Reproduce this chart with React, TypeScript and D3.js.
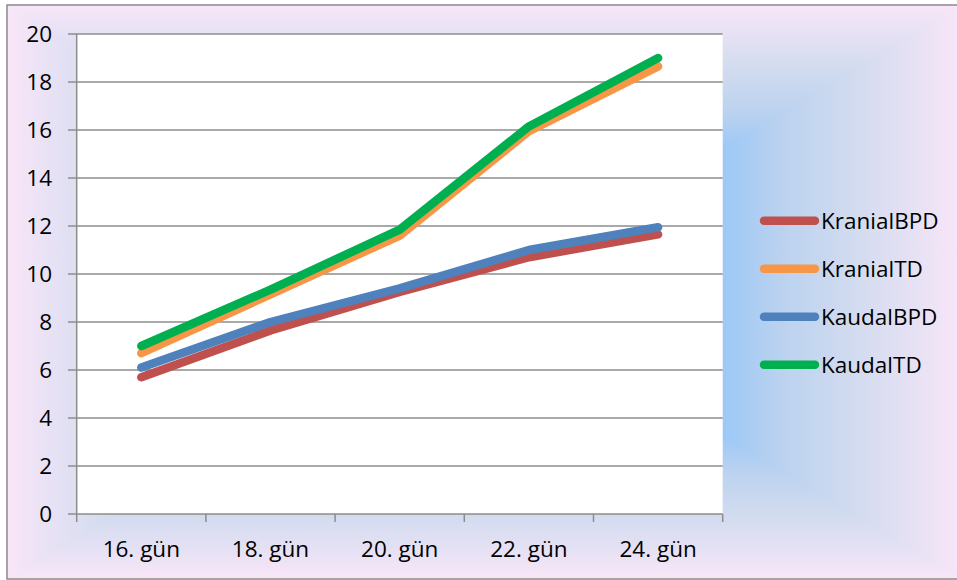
import React from "react";
import * as d3 from "d3";

const categories = ["16. gün", "18. gün", "20. gün", "22. gün", "24. gün"];
const seriesNames = ["KranialBPD", "KranialTD", "KaudalBPD", "KaudalTD"];
const kranialBPD = [5.7, 7.65, 9.25, 10.7, 11.65];
const kranialTD = [6.7, 9.15, 11.6, 15.95, 18.65];
const kaudalBPD = [6.1, 8.0, 9.4, 11.0, 11.95];
const kaudalTD = [7.0, 9.35, 11.85, 16.15, 19.0];
const yTicks = [0, 2, 4, 6, 8, 10, 12, 14, 16, 18, 20];

const seriesValues = [kranialBPD, kranialTD, kaudalBPD, kaudalTD];
const seriesColors = ["#C0504D", "#F79646", "#4F81BD", "#00B050"];

const W = 957;
const H = 580;
// chart frame
const fx0 = 7, fy0 = 5, fx1 = 961, fy1 = 579;
const cx = (fx0 + fx1) / 2, cy = (fy0 + fy1) / 2;
// plot area
const px0 = 76.7, px1 = 722.7, py0 = 34, py1 = 514;

// rectangular path gradient: centre blue fading to pink at the frame edges
const gradStops: [number, string][] = [
  [0, "#99c8f8"],
  [0.5, "#9cc8f7"],
  [0.62, "#bad2ef"],
  [0.77, "#d1dbef"],
  [0.9, "#e6e1f4"],
  [1, "#f9e6f8"],
];

function symmetricStops(prefix: string) {
  const left = gradStops
    .slice()
    .reverse()
    .map(([t, c], i) => <stop key={prefix + "l" + i} offset={(1 - t) / 2} stopColor={c} />);
  const right = gradStops.map(([t, c], i) => (
    <stop key={prefix + "r" + i} offset={0.5 + t / 2} stopColor={c} />
  ));
  return [...left, ...right];
}

export default function App() {
  const x = d3.scaleBand<string>().domain(categories).range([px0, px1]);
  const y = d3.scaleLinear().domain([0, 20]).range([py1, py0]);
  const line = d3
    .line<number>()
    .x((_, i) => (x(categories[i]) as number) + x.bandwidth() / 2)
    .y((v) => y(v));

  const font = "'Open Sans', 'Noto Sans', sans-serif";
  const fs = 22.5;
  const grid = "#8c8c8c";
  const boundaries = [...categories.map((c) => x(c) as number), px1];

  return (
    <div style={{ position: "absolute", left: 0, top: 0 }}>
      <svg width={W} height={H} style={{ display: "block" }} fontFamily={font}>
        <defs>
          <linearGradient id="bgH" gradientUnits="userSpaceOnUse" x1={fx0} y1={0} x2={fx1} y2={0}>
            {symmetricStops("h")}
          </linearGradient>
          <linearGradient id="bgV" gradientUnits="userSpaceOnUse" x1={0} y1={fy0} x2={0} y2={fy1}>
            {symmetricStops("v")}
          </linearGradient>
        </defs>
        <rect x={0} y={0} width={W} height={H} fill="#ffffff" />
        <rect x={fx0} y={fy0} width={fx1 - fx0} height={fy1 - fy0} fill="url(#bgH)" />
        <path d={`M${fx0},${fy0}L${fx1},${fy0}L${cx},${cy}Z`} fill="url(#bgV)" />
        <path d={`M${fx0},${fy1}L${fx1},${fy1}L${cx},${cy}Z`} fill="url(#bgV)" />
        <rect
          x={fx0}
          y={fy0}
          width={fx1 - fx0}
          height={fy1 - fy0}
          fill="none"
          stroke="#8a8a8a"
          strokeWidth={1.5}
        />

        {/* plot area */}
        <rect x={px0} y={py0} width={px1 - px0} height={py1 - py0} fill="#ffffff" />
        {yTicks.map((t) => (
          <g key={t}>
            <line x1={68} x2={px1} y1={y(t)} y2={y(t)} stroke={grid} strokeWidth={1.5} />
            <text x={52} y={y(t)} dy="0.35em" textAnchor="end" fontSize={fs} fill="#000">
              {t}
            </text>
          </g>
        ))}
        <line x1={px0} x2={px0} y1={py0} y2={py1} stroke={grid} strokeWidth={1.5} />
        {boundaries.map((b, i) => (
          <line key={i} x1={b} x2={b} y1={py1} y2={py1 + 8} stroke={grid} strokeWidth={1.5} />
        ))}
        {categories.map((c) => (
          <text
            key={c}
            x={(x(c) as number) + x.bandwidth() / 2}
            y={556.5}
            textAnchor="middle"
            fontSize={fs}
            fill="#000"
          >
            {c}
          </text>
        ))}

        {/* series lines */}
        {seriesValues.map((vals, i) => (
          <path
            key={seriesNames[i]}
            d={line(vals) as string}
            fill="none"
            stroke={seriesColors[i]}
            strokeWidth={8.5}
            strokeLinecap="round"
            strokeLinejoin="round"
          />
        ))}

        {/* legend */}
        {seriesNames.map((n, i) => {
          const ly = 220.7 + i * 48;
          return (
            <g key={n}>
              <line
                x1={764}
                x2={815}
                y1={ly}
                y2={ly}
                stroke={seriesColors[i]}
                strokeWidth={8.5}
                strokeLinecap="round"
              />
              <text x={821} y={ly} dy="0.35em" fontSize={fs} fill="#000">
                {n}
              </text>
            </g>
          );
        })}
      </svg>
    </div>
  );
}
